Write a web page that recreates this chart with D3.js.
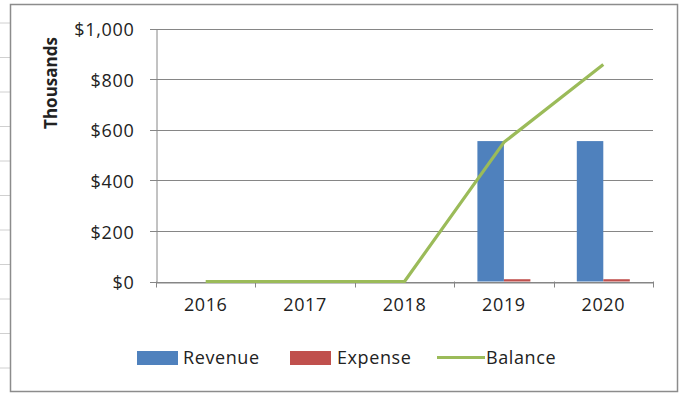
<!DOCTYPE html>
<html><head><meta charset="utf-8">
<script src="https://cdn.jsdelivr.net/npm/d3@7"></script>
<style>
body{margin:0;background:#fff;}
svg text{font-family:"Open Sans",sans-serif;fill:#222;}
</style></head>
<body><svg id="c" width="679" height="398"></svg>
<script>
const categories = ["2016","2017","2018","2019","2020"];
const revenue = [0, 0, 0, 555, 555];
const expense = [0, 0, 0, 9, 9];
const balance = [0, 0, 0, 550, 858];
const yTicks = [0, 200, 400, 600, 800, 1000];
const seriesNames = ["Revenue","Expense","Balance"];
const colors = ["#4F81BD","#C0504D","#9BBB59"];

const svg = d3.select("#c");
// spreadsheet background lines outside chart
const sheetRows = d3.range(0, 11);
svg.selectAll("line.sheet").data(sheetRows).enter().append("line")
  .attr("x1",0).attr("x2",10).attr("y1",d=>23+d*34.5).attr("y2",d=>23+d*34.5)
  .attr("stroke","#d0d0d0");
// chart area border
svg.append("rect").attr("x",10.5).attr("y",4.5).attr("width",667).attr("height",387)
  .attr("fill","#fff").attr("stroke","#8c8c8c").attr("stroke-width",1.5);

const x = d3.scaleBand().domain(categories).range([156,653]);
const y = d3.scaleLinear().domain([0,1000]).range([281.5,28.5]);

// gridlines
svg.append("g").selectAll("line").data(yTicks).enter().append("line")
  .attr("x1",150).attr("x2",653).attr("y1",d=>Math.round(y(d))+0.5).attr("y2",d=>Math.round(y(d))+0.5)
  .attr("stroke","#868686").attr("stroke-width",1);

// y axis
const ya = svg.append("g").attr("transform","translate(156.5,0)")
  .call(d3.axisLeft(y).tickValues(yTicks).tickSize(0).tickPadding(22)
    .tickFormat(d=>"$"+d3.format(",")(d)));
ya.select(".domain").attr("stroke","#868686");
ya.selectAll("text").attr("font-size",18).attr("dy","0.4em").style("font-family","Open Sans").attr("fill","#222").attr("letter-spacing","0.7px");

// x axis
const xa = svg.append("g").attr("transform","translate(0,"+(Math.round(y(0))+0.5)+")")
  .call(d3.axisBottom(x).tickSize(0).tickPadding(16));
xa.select(".domain").attr("stroke","#868686");
xa.selectAll("text").attr("font-size",18).style("font-family","Open Sans").attr("fill","#222").attr("letter-spacing","0.6px");
// x tick marks at band edges
const edges = categories.map(c=>x(c)).concat([x.range()[1]]);
svg.append("g").selectAll("line").data(edges).enter().append("line")
  .attr("x1",d=>Math.round(d)+0.5).attr("x2",d=>Math.round(d)+0.5)
  .attr("y1",y(0)).attr("y2",y(0)+6).attr("stroke","#868686");

// bars
const barW = 26.5;
const bars = svg.append("g");
bars.selectAll("rect.rev").data(revenue).enter().append("rect")
  .attr("x",(d,i)=>x(categories[i])+x.bandwidth()/2-barW)
  .attr("width",barW).attr("y",d=>y(d)).attr("height",d=>y(0)-y(d)).attr("fill",colors[0]);
bars.selectAll("rect.exp").data(expense).enter().append("rect")
  .attr("x",(d,i)=>x(categories[i])+x.bandwidth()/2)
  .attr("width",barW).attr("y",d=>y(d)).attr("height",d=>y(0)-y(d)).attr("fill",colors[1]);

// balance line
const line = d3.line().x((d,i)=>x(categories[i])+x.bandwidth()/2).y(d=>y(d));
svg.append("path").datum(balance).attr("d",line).attr("fill","none")
  .attr("stroke",colors[2]).attr("stroke-width",3.2).attr("stroke-linejoin","round");

// y axis title
svg.append("text").attr("transform","translate(57,83) rotate(-90)")
  .attr("text-anchor","middle").attr("font-size",17).attr("font-weight","bold")
  .text("Thousands");

// legend
const lg = svg.append("g");
const legendItems = [
  {name:seriesNames[0], x:137, tx:183},
  {name:seriesNames[1], x:290, tx:337},
  {name:seriesNames[2], x:437, tx:486}
];
legendItems.forEach((it,i)=>{
  if(i<2){
    lg.append("rect").attr("x",it.x).attr("y",351).attr("width",41).attr("height",14).attr("fill",colors[i]);
  } else {
    lg.append("line").attr("x1",it.x).attr("x2",it.x+48).attr("y1",357.5).attr("y2",357.5)
      .attr("stroke",colors[i]).attr("stroke-width",3.2);
  }
  lg.append("text").attr("x",it.tx).attr("y",364).attr("font-size",18).attr("letter-spacing","0.6px").text(it.name);
});
</script></body></html>
